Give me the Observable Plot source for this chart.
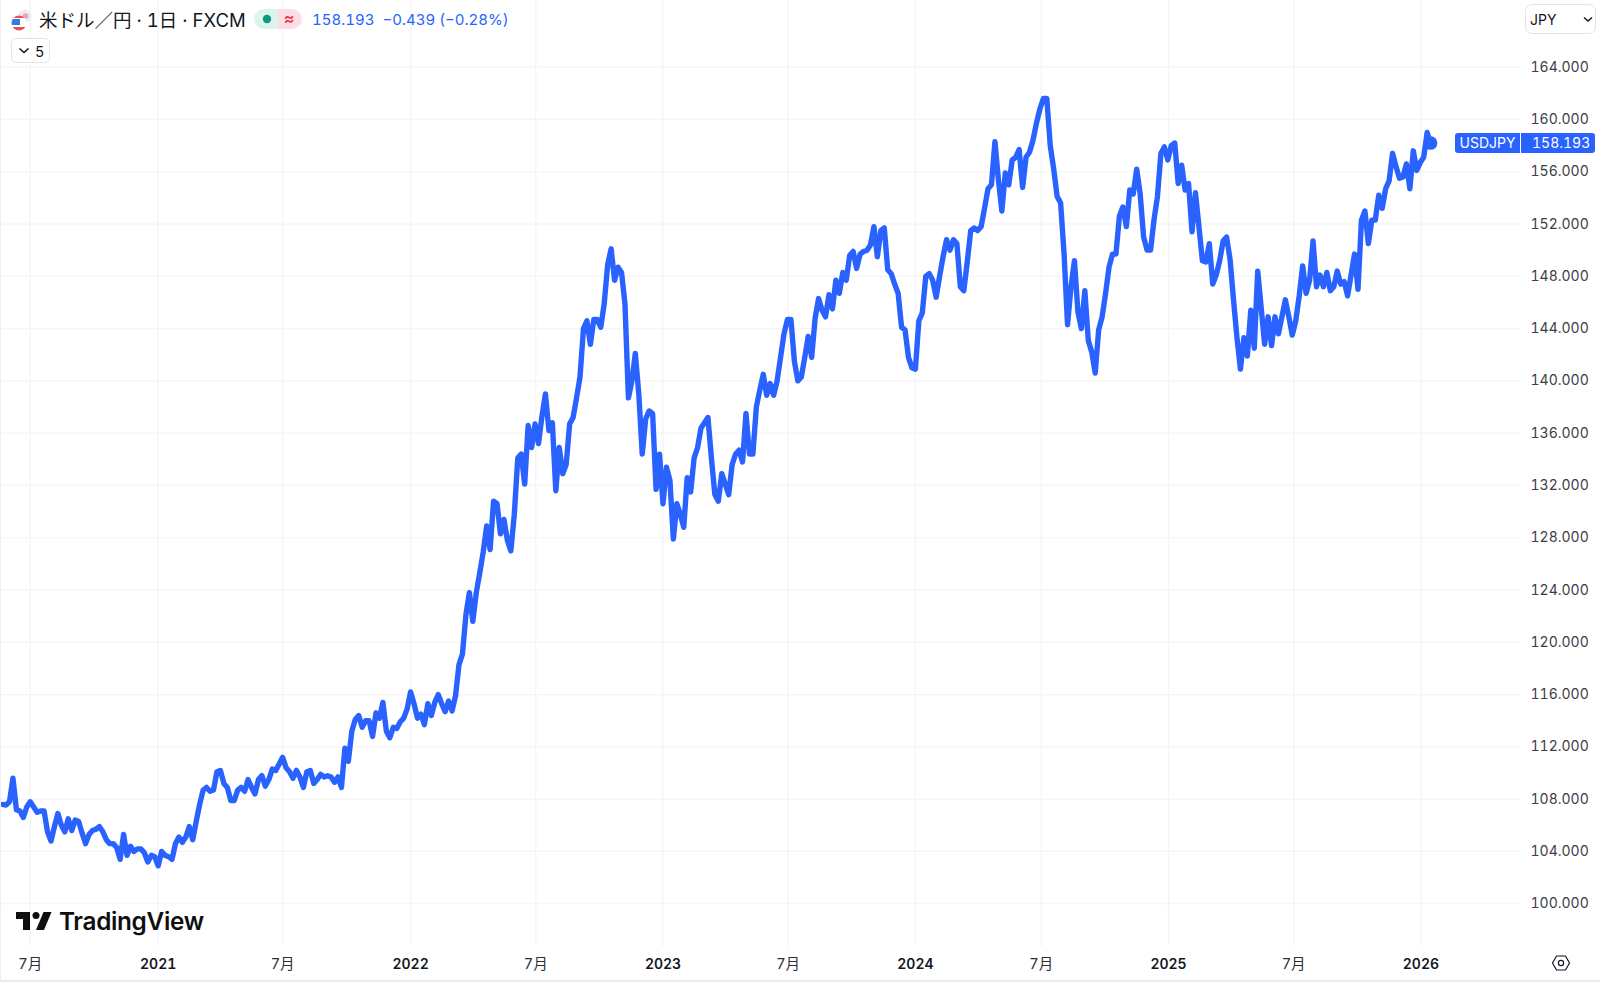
<!DOCTYPE html>
<html lang="ja">
<head>
<meta charset="utf-8">
<script src="https://cdn.jsdelivr.net/npm/d3@7"></script>
<script src="https://cdn.jsdelivr.net/npm/@observablehq/plot@0.6"></script>
<style>
html,body{margin:0;padding:0;background:#fff;overflow:hidden}
body{width:1600px;height:983px;position:relative;font-family:Inter,"Noto Sans CJK JP",sans-serif;color:#131722;font-variant-numeric:tabular-nums}
#chart{position:absolute;left:0;top:0}
#chart svg{display:block;background:transparent;font-variant-numeric:tabular-nums}
.ov{position:absolute;white-space:nowrap}
.btn{border:1px solid #e0e3eb;border-radius:5px;box-sizing:border-box;background:#fff}
</style>
</head>
<body>
<div id="chart"></div>
<script>
const startDate = "2020-05-21";
const stepDays = 5;
const y2020 = [107.6,107.55,107.8,109.6,107.2,107.1,106.6,107.4,107.8,107.4,107.0,107.1,107.1,105.5,104.8,105.9,106.9,106.0,105.5,106.5,105.6,106.4,106.3,105.4,104.6,105.3,105.6,105.7,105.9,105.5,104.9,104.6,104.6,104.3,103.4,105.3,103.7,104.4,104.0,104.2,104.2,103.9,103.2,103.7,103.6];
const y2021 = [102.9,104.0,103.7,103.6,103.4,104.6,105.1,104.7,105.1,105.9,104.9,106.3,107.6,108.7,108.9,108.6,108.7,110.1,110.2,109.2,108.9,107.9,107.9,108.7,108.9,108.6,109.5,108.9,108.4,109.5,109.8,109.0,109.5,110.3,110.2,110.7,111.2,110.4,110.1,109.6,110.2,109.7,108.9,110.1,110.2,109.2,109.5,109.9,109.7,109.8,109.7,109.3,109.7,108.9,111.9,110.9,113.2,114.1,114.4,113.5,114.0,114.0,112.8,114.6,114.2,115.4,113.2,112.7,113.5,113.4,113.9,114.2,114.9];
const y2022 = [116.2,115.3,114.2,114.5,113.7,115.3,114.4,115.4,116.0,115.3,114.7,115.5,114.75,115.9,118.3,119.1,122.1,123.8,121.6,123.8,125.3,126.9,128.9,127.1,130.8,130.6,128.3,129.4,127.8,127.0,129.8,134.1,134.4,132.1,136.6,134.9,136.7,135.2,137.3,139.0,136.2,136.8,131.6,134.9,132.9,133.6,136.7,137.2,138.7,140.3,144.0,144.6,142.8,144.7,144.7,144.1,145.9,148.9,150.1,147.7,148.7,148.3,145.9,138.7,140.0,142.1,139.0,134.4,137.1,137.7,137.5,131.7,134.4];
const y2023 = [130.6,133.4,132.4,127.9,130.6,129.8,128.8,132.6,131.5,134.1,134.9,136.4,136.8,137.2,134.1,131.3,130.8,132.9,132.1,131.3,133.6,134.4,134.7,133.8,137.5,134.4,134.4,138.0,139.3,140.5,138.9,139.8,138.9,140.0,141.8,143.6,144.7,144.7,141.5,140.0,140.3,141.8,143.4,141.8,144.8,146.3,145.4,144.9,146.6,145.5,147.7,146.7,148.3,147.7,149.6,149.9,148.6,149.7,149.9,150.0,150.4,151.8,149.5,151.5,151.7,148.5,148.2,147.4,146.7,144.1,143.9,141.8,141.0];
const y2024 = [140.9,144.6,145.2,148.0,148.2,147.7,146.4,148.0,149.5,150.8,150.0,150.8,150.5,147.2,146.9,149.1,151.5,151.7,151.5,151.8,153.2,154.7,155.0,158.3,155.4,153.0,155.9,155.0,156.9,157.1,157.7,154.8,157.1,157.5,158.4,159.7,160.8,161.6,161.6,158.0,156.2,154.1,153.6,149.7,144.3,147.2,149.2,145.3,144.0,146.9,143.1,142.2,140.6,143.9,144.9,146.7,148.7,149.7,149.7,152.6,153.3,151.8,154.6,154.3,156.2,154.3,151.0,150.0,150.0,152.3,154.1,157.4,157.9];
const y2025 = [156.9,158.0,158.2,155.1,156.5,154.6,155.1,151.4,154.4,151.8,149.2,149.1,150.5,147.4,148.1,149.2,150.7,151.0,149.3,146.2,143.3,140.9,143.3,141.9,145.4,142.5,148.4,145.6,142.8,144.9,142.7,144.9,143.6,144.9,146.2,144.9,143.5,144.6,146.5,148.8,146.7,147.7,150.7,147.2,148.1,147.2,148.3,146.9,147.2,148.4,147.4,147.6,146.5,148.1,149.7,147.0,152.3,153.0,150.5,152.3,152.3,154.2,153.2,154.7,155.3,157.4,156.4,155.5,155.6,156.6,154.7,157.6,156.1];
const y2026 = [156.7,157.1,159.0,158.193];
const priceTicks = [100,104,108,112,116,120,124,128,132,136,140,144,148,152,156,160,164];
const monthTicks = ["2020-06-30","2021-06-30","2022-07-01","2023-07-01","2024-07-01","2025-07-01"];
const yearTicks = ["2021-01-01","2022-01-01","2023-01-01","2024-01-01","2025-01-01","2026-01-01"];
const monthLabel = "7月";
const symbolName = "USDJPY";
const lastPrice = "158.193";
const headerTitle = "米ドル／円 · 1日 · FXCM";
const headerChange = "158.193\u00a0\u00a0−0.439 (−0.28%)";

const blue = "#2962ff";
const gridColor = "#f3f4f6";
const values = [...y2020,...y2021,...y2022,...y2023,...y2024,...y2025,...y2026];
const t0 = new Date(startDate + "T00:00:00Z");
const rows = values.map((v,i)=>({date:d3.utcDay.offset(t0,i*stepDays),price:v}));
const last = rows[rows.length-1];
const toDate = s=>new Date(s+"T00:00:00Z");
const gridDates = [...monthTicks,...yearTicks].map(toDate);

const plot = Plot.plot({
  width:1600,height:983,
  marginLeft:0,marginRight:80,marginTop:0,marginBottom:37,
  style:{fontFamily:'Inter,"Noto Sans CJK JP",sans-serif',background:"transparent",overflow:"visible"},
  x:{type:"utc",domain:[toDate("2020-05-18"),toDate("2026-05-25")]},
  y:{domain:[96.73,169.1]},
  marks:[
    Plot.gridY(priceTicks,{stroke:gridColor,strokeOpacity:1,strokeWidth:1.2}),
    Plot.gridX(gridDates,{stroke:gridColor,strokeOpacity:1,strokeWidth:1.2}),
    Plot.axisY({anchor:"right",ticks:priceTicks,tickSize:0,tickPadding:10,label:null,
      tickFormat:d=>d.toFixed(3),fontSize:14,fill:"#3b3e46",textAnchor:"start"}),
    Plot.axisX({ticks:monthTicks.map(toDate),tickSize:0,tickPadding:12.5,label:null,
      tickFormat:()=>monthLabel,fontSize:14.5,fill:"#2a2e39"}),
    Plot.axisX({ticks:yearTicks.map(toDate),tickSize:0,tickPadding:13,label:null,
      tickFormat:d3.utcFormat("%Y"),fontSize:14,fontWeight:600,fill:"#131722",style:{letterSpacing:"1.3px"}}),
    Plot.line(rows,{x:"date",y:"price",stroke:blue,strokeWidth:5.4,strokeLinejoin:"round",strokeLinecap:"round",curve:"linear"}),
    Plot.dot([last],{x:"date",y:"price",r:6.8,fill:blue,stroke:null})
  ]
});
document.getElementById("chart").appendChild(plot);

const py = plot.scale("y").apply(last.price);
const ov = (html,css,cls)=>{const d=document.createElement("div");d.className="ov "+(cls||"");d.style.cssText=css;d.innerHTML=html;document.body.appendChild(d);return d;};

// frame lines
ov("","left:0;top:980px;width:1600px;height:1.5px;background:#e9ebef");
ov("","left:0;top:0;width:1.2px;height:980px;background:#eceef2");

// flag
ov('<svg width="24" height="24" viewBox="0 0 24 24"><circle cx="15" cy="8" r="6.5" fill="#e8ebf8"/><circle cx="15.5" cy="8" r="2.8" fill="#f2a3ae"/><defs><clipPath id="fc"><circle cx="9" cy="15" r="7.5"/></clipPath></defs><g clip-path="url(#fc)"><rect x="0" y="7" width="18" height="16" fill="#fff"/><rect x="0" y="7" width="18" height="3" fill="#e8505b"/><rect x="0" y="19" width="18" height="4" fill="#e8505b"/><rect x="0" y="11" width="10" height="6" fill="#2f7fd8"/></g></svg>',"left:10px;top:8px;width:24px;height:24px");
ov(headerTitle,'left:39px;top:8px;font-size:18.5px;line-height:24px;color:#131722;font-family:Inter,"Noto Sans CJK JP",sans-serif');
// status pills
ov('<svg width="48" height="20"><path d="M10 0H24V20H10A10 10 0 0 1 10 0Z" fill="#dff3ee"/><path d="M24 0H38A10 10 0 0 1 38 20H24Z" fill="#fbdde6"/><circle cx="13" cy="10" r="4.2" fill="#089981"/></svg>',"left:254px;top:9px;width:48px;height:20px");
ov("≈","left:284px;top:8px;font-size:16px;line-height:21px;color:#f23645;font-weight:600");
ov(headerChange,"left:312px;top:9.5px;font-size:15px;line-height:20px;color:"+blue);

// collapse button
ov('<svg width="14" height="10" style="position:absolute;left:5px;top:7px"><path d="M2.5 2.5 L7 6.5 L11.5 2.5" fill="none" stroke="#131722" stroke-width="1.6"/></svg><span style="position:absolute;left:23px;top:2.5px;font-size:14.5px;line-height:19px">5</span>',"left:11px;top:38px;width:39px;height:25px","btn");

// currency button
ov('<span style="position:absolute;left:4px;top:6px;font-size:14px;line-height:18px">JPY</span><svg width="12" height="8" style="position:absolute;left:56px;top:11px"><path d="M2 1.5 L6 5 L10 1.5" fill="none" stroke="#131722" stroke-width="1.5"/></svg>',"left:1525px;top:4px;width:71px;height:30px;border-radius:7px","btn");

// price tag
ov(symbolName,"left:1455px;top:"+(py-10)+"px;width:65px;height:20px;line-height:20px;background:"+blue+";color:#fff;font-size:14px;text-align:center;border-radius:3px 0 0 3px");
ov(lastPrice,"left:1521px;top:"+(py-10)+"px;width:74px;height:20px;line-height:20px;background:"+blue+";color:#fff;font-size:14px;text-align:left;padding-left:11px;box-sizing:border-box;border-radius:0 3px 3px 0");

// TradingView logo
ov('<svg width="36" height="18" viewBox="0 7 36 18"><path d="M14 25H7V14H0V7h14v18zM28 25h-8l7.5-18h8L28 25z" fill="#0f0f0f"/><circle cx="20" cy="10.5" r="3.5" fill="#0f0f0f"/></svg>',"left:15.5px;top:912px;width:36px;height:18px");
ov("TradingView","left:59px;top:905px;font-size:24.3px;line-height:32px;font-weight:600;color:#0f0f0f;letter-spacing:-0.3px");

// settings icon
ov('<svg width="20" height="18" viewBox="0 0 20 18"><path d="M5.5 2H14.5L18.5 9L14.5 16H5.5L1.5 9Z" fill="none" stroke="#131722" stroke-width="1.2"/><circle cx="10" cy="9" r="2.6" fill="none" stroke="#131722" stroke-width="1.2"/></svg>',"left:1551px;top:954px;width:20px;height:18px");
</script>
</body>
</html>
